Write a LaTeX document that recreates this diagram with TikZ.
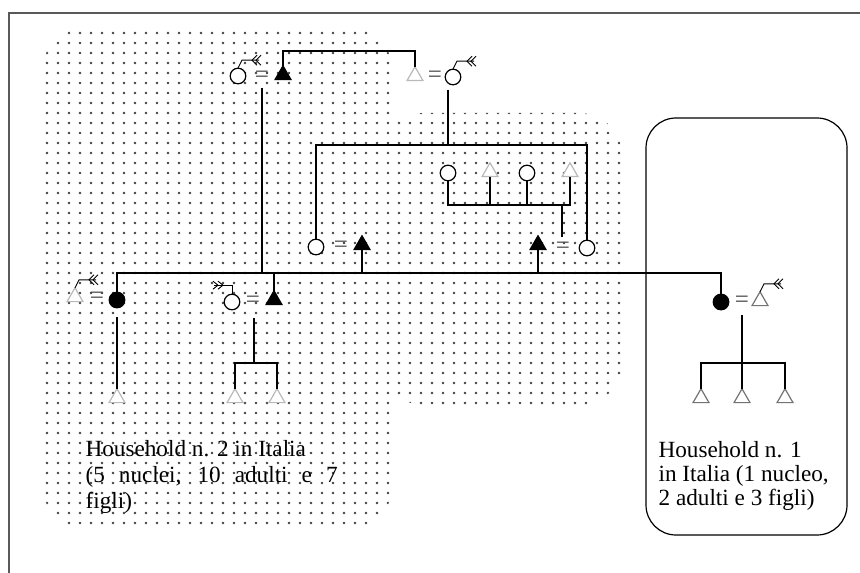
\documentclass[tikz,border=0pt]{standalone}
\usepackage{fontspec}
\setmainfont{Liberation Serif}
\usetikzlibrary{shapes.geometric}
\tikzset{
  kin/.style = {inner sep=0pt, outer sep=0pt, line width=0.6pt},
  fem_o/.style = {kin, circle, minimum size=7.8pt, draw=black, fill=white},
  fem_b/.style = {kin, circle, minimum size=7.8pt, draw=black, fill=black},
  mas_b/.style = {kin, regular polygon, regular polygon sides=3, minimum size=9.2pt, draw=black, fill=black},
  mas_g/.style = {kin, regular polygon, regular polygon sides=3, minimum size=9.2pt, draw=gray!55, fill=white},
  mas_d/.style = {mas_g, draw=gray!90!black},
  marr/.style = {inner sep=0pt, text=gray!60!black, font=\fontsize{12.5}{12.5}\selectfont},
  hh_text/.style = {anchor=west, align=left, inner sep=0pt},
  migr_r/.pic = {
    \draw[line width=0.45pt] (0,0) -- (4,-8) -- (21,-8);
    \draw[line width=0.45pt] (19,-13) -- (14,-8) -- (19,-3) (23,-13) -- (18,-8) -- (23,-3);
  },
  migr_l/.pic = {
    \draw[line width=0.45pt] (0,0) -- (0,-9) -- (-18,-9);
    \draw[line width=0.45pt] (-14,-13) -- (-9,-9) -- (-14,-5) (-19,-13) -- (-14,-9) -- (-19,-5);
  },
}

\begin{document}
\begin{tikzpicture}[x=0.5pt, y=-0.5pt, line width=0.6pt]
  \useasboundingbox (0,0) rectangle (860,572);
  \clip (0,0) rectangle (860,572);

  % zona puntinata (household n. 2)
  \begin{scope}
    \clip [rounded corners=16pt] (45,30) rectangle (390,526)
          [rounded corners=22pt] (380,113) rectangle (623,405);
    \foreach \x in {47,58,...,622}
      \foreach \y in {33,43,...,526}
        \fill[black!75] (\x,\y) circle[radius=0.65pt];
  \end{scope}

  % cornice e household n. 1
  \draw[line width=0.9pt, gray!70!black] (9,600) |- (880,13);
  \draw[rounded corners=15pt] (646,118) rectangle (847,535);

  % prima generazione
  \node[fem_o] (f1) at (238,76) {};
  \node[marr]  (e1) at (262,77) {=};
  \node[mas_b] (m1) at (283,75) {};
  \node[mas_g] (m2) at (415,76) {};
  \node[marr]  (e2) at (435,77) {=};
  \node[fem_o] (f2) at (453,77) {};
  \pic at (f1.north) {migr_r};
  \pic at (f2.north) {migr_r};

  % seconda generazione
  \node[fem_o] (f3) at (316,247) {};
  \node[marr]  (e3) at (341,247) {=};
  \node[mas_b] (m3) at (362,245) {};
  \node[mas_b] (m4) at (538,245) {};
  \node[marr]  (e4) at (563,248) {=};
  \node[fem_o] (f4) at (587,248) {};
  \node[fem_o] (f5) at (448,173) {};
  \node[mas_g] (m5) at (490,172) {};
  \node[fem_o] (f6) at (527,173) {};
  \node[mas_g] (m6) at (570,172) {};

  \node[mas_g] (m8)  at (75,297) {};
  \node[marr]  (e5)  at (97,298) {=};
  \node[fem_b] (f7)  at (117,300) {};
  \node[fem_o] (f9)  at (232,302) {};
  \node[marr]  (e6)  at (253,302) {=};
  \node[mas_b] (m7)  at (274,300) {};
  \node[fem_b] (f8)  at (721,302) {};
  \node[marr]  (e7)  at (742,302) {=};
  \node[mas_d] (m12) at (760,301) {};
  \pic at (m8.north) {migr_r};
  \pic at (m12.north) {migr_r};
  \pic at (f9.north) {migr_l};

  % figli
  \node[mas_g] (m9)  at (117,398) {};
  \node[mas_g] (m10) at (235,398) {};
  \node[mas_g] (m11) at (277,398) {};
  \node[mas_d] (m13) at (701,398) {};
  \node[mas_d] (m14) at (742,398) {};
  \node[mas_d] (m15) at (785,398) {};

  % linee di fratellanza e discendenza
  \coordinate (b1) at (350,51);
  \coordinate (d1) at (262,88);
  \coordinate (d2) at (448,90);
  \coordinate (b2) at (448,145);
  \coordinate (b3) at (500,205);
  \coordinate (d3) at (562,237);
  \coordinate (b4) at (400,273);
  \coordinate (d5) at (117,317);
  \coordinate (d6) at (254,318);
  \coordinate (b6) at (254,363);
  \coordinate (d7) at (742,315);
  \coordinate (b7) at (742,363);

  \draw (m1.north) |- (b1) -| (m2.north);
  \draw (d1) -- (d1 |- b4);
  \draw (d2) -- (b2);
  \draw (f3.north) |- (b2) -| (f4.north);
  \draw (f5.south) |- (b3) -| (m6.south);
  \draw (m5.south) -- (m5.south |- b3);
  \draw (f6.south) -- (f6.south |- b3);
  \draw (d3) -- (d3 |- b3);
  \draw (f7.north) |- (b4) -| (f8.north);
  \draw (m7.north) -- (m7.north |- b4);
  \draw (m3.south) -- (m3.south |- b4);
  \draw (m4.south) -- (m4.south |- b4);
  \draw (d5) -- (m9.north);
  \draw (d6) -- (b6);
  \draw (m10.north) |- (b6) -| (m11.north);
  \draw (d7) -- (m14.north);
  \draw (m13.north) |- (b7) -| (m15.north);

  % didascalie
  \node[hh_text, font=\fontsize{11.6}{13}\selectfont] (hh2) at (85,477)
    {Household n. 2 in Italia\\\makebox[126pt][s]{(5 nuclei, 10 adulti e 7}\\figli)};
  \node[hh_text, font=\fontsize{11.6}{12.2}\selectfont] (hh1) at (658,476)
    {Household n. 1\\in Italia (1 nucleo,\\2 adulti e 3 figli)};
\end{tikzpicture}
\end{document}
